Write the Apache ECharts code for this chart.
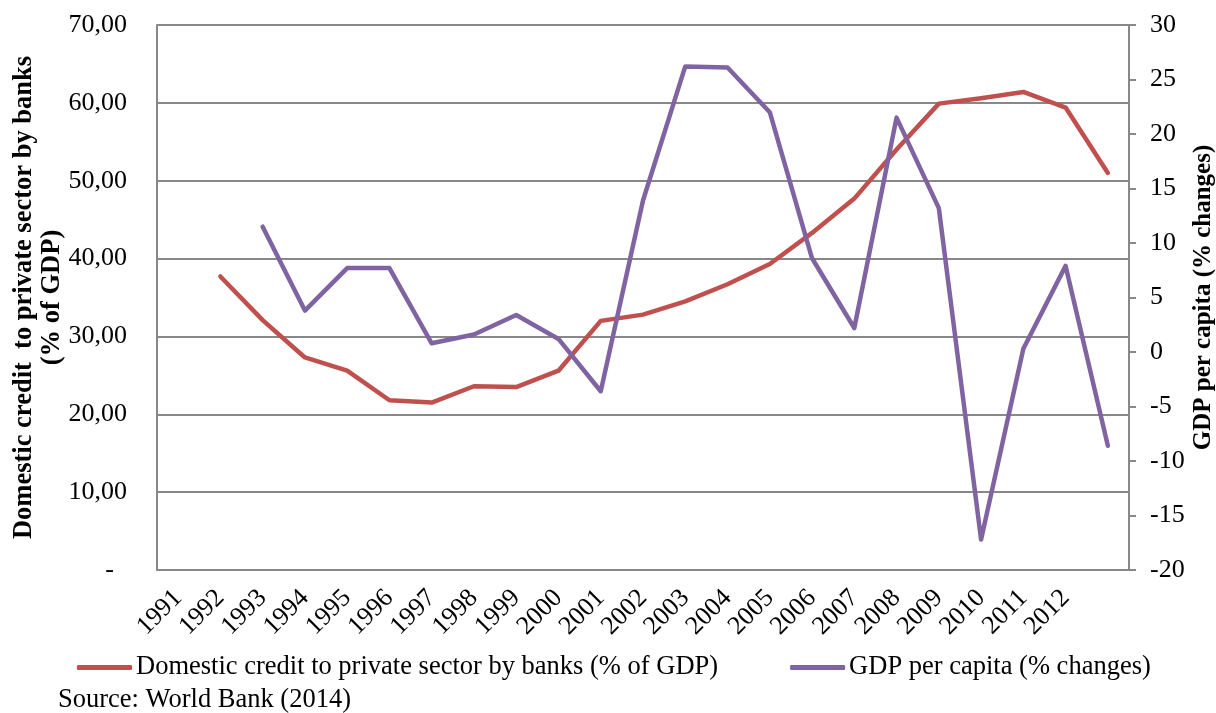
<!DOCTYPE html>
<html>
<head>
<meta charset="utf-8">
<script src="https://cdn.jsdelivr.net/npm/echarts@6/dist/echarts.min.js"></script>
<style>
  html, body { margin: 0; padding: 0; background: #fff; }
  #chart { width: 1216px; height: 713px; }
</style>
</head>
<body>
<div id="chart"></div>
<script>
// Category slots: one label per year, plus a trailing unlabeled slot
const years = ['1991', '1992', '1993', '1994', '1995', '1996', '1997', '1998', '1999', '2000',
  '2001', '2002', '2003', '2004', '2005', '2006', '2007', '2008', '2009', '2010', '2011', '2012', ''];

// Domestic credit to private sector by banks (% of GDP)
const creditValues = [null, 37.7, 32.1, 27.3, 25.6, 21.8, 21.5, 23.6, 23.5, 25.6, 32.0, 32.8,
  34.5, 36.7, 39.3, 43.3, 47.7, 54.0, 59.9, 60.6, 61.4, 59.4, 51.0];

// GDP per capita (% changes)
const gdpValues = [null, null, 11.5, 3.8, 7.7, 7.7, 0.8, 1.6, 3.4, 1.2, -3.6, 13.9,
  26.2, 26.1, 22.0, 8.6, 2.2, 21.5, 13.2, -17.2, 0.3, 7.9, -8.6];

const seriesNames = ['Domestic credit to private sector by banks (% of GDP)', 'GDP per capita (% changes)'];
const leftAxisTitle = 'Domestic credit  to private sector by banks\n(% of GDP)';
const rightAxisTitle = 'GDP per capita (% changes)';
const sourceNote = 'Source: World Bank (2014)';

const FONT = '"Liberation Serif", "Times New Roman", serif';
const GRID_GRAY = '#888888';
const TEXT_SIZE = 26;

const chart = echarts.init(document.getElementById('chart'), null, { renderer: 'canvas' });

chart.setOption({
  animation: false,
  backgroundColor: '#ffffff',
  title: {
    text: sourceNote,
    left: 58,
    top: 687,
    padding: 0,
    textStyle: { fontFamily: FONT, fontSize: 26.5, fontWeight: 'normal', color: '#000' }
  },
  legend: {
    data: seriesNames,
    left: 77,
    top: 654,
    padding: 0,
    itemWidth: 55,
    itemHeight: 5,
    itemGap: 72,
    icon: 'roundRect',
    textStyle: { fontFamily: FONT, fontSize: 26.5, color: '#000', padding: [0, 0, 0, -1] }
  },
  grid: { left: 157, right: 87, top: 25, bottom: 143, containLabel: false, outerBoundsMode: 'none' },
  xAxis: {
    type: 'category',
    data: years,
    boundaryGap: true,
    axisLine: { show: true, lineStyle: { color: GRID_GRAY, width: 2 } },
    axisTick: { show: false },
    axisLabel: {
      interval: 0,
      rotate: 45,
      margin: 24,
      fontFamily: FONT,
      fontSize: TEXT_SIZE,
      color: '#000'
    },
    splitLine: { show: false }
  },
  yAxis: [
    {
      type: 'value',
      position: 'left',
      min: 0,
      max: 70,
      interval: 10,
      axisLine: { show: true, lineStyle: { color: GRID_GRAY, width: 2 } },
      axisTick: { show: false },
      axisLabel: {
        margin: 30,
        fontFamily: FONT,
        fontSize: TEXT_SIZE,
        color: '#000',
        formatter: v => (v === 0 ? '-  ' : v.toFixed(2).replace('.', ','))
      },
      splitLine: { show: true, lineStyle: { color: GRID_GRAY, width: 2 } },
      name: leftAxisTitle,
      nameLocation: 'middle',
      nameRotate: 90,
      nameGap: 91,
      nameMoveOverlap: false,
      nameTextStyle: { fontFamily: FONT, fontSize: 26.5, fontWeight: 'bold', color: '#000', lineHeight: 28 }
    },
    {
      type: 'value',
      position: 'right',
      min: -20,
      max: 30,
      interval: 5,
      axisLine: { show: true, lineStyle: { color: GRID_GRAY, width: 2 } },
      axisTick: { show: true, inside: false, length: 7, lineStyle: { color: GRID_GRAY, width: 2 } },
      axisLabel: {
        margin: 21,
        fontFamily: FONT,
        fontSize: TEXT_SIZE,
        color: '#000'
      },
      splitLine: { show: false },
      name: rightAxisTitle,
      nameLocation: 'middle',
      nameRotate: 90,
      nameGap: 62,
      nameMoveOverlap: false,
      nameTextStyle: { fontFamily: FONT, fontSize: 25, fontWeight: 'bold', color: '#000' }
    }
  ],
  series: [
    {
      name: seriesNames[0],
      type: 'line',
      yAxisIndex: 0,
      data: creditValues,
      showSymbol: false,
      symbol: 'none',
      color: '#C0504D',
      lineStyle: { width: 4.5, color: '#C0504D', cap: 'round', join: 'round' }
    },
    {
      name: seriesNames[1],
      type: 'line',
      yAxisIndex: 1,
      data: gdpValues,
      showSymbol: false,
      symbol: 'none',
      color: '#8064A2',
      lineStyle: { width: 4.5, color: '#8064A2', cap: 'round', join: 'round' }
    }
  ]
});
</script>
</body>
</html>
